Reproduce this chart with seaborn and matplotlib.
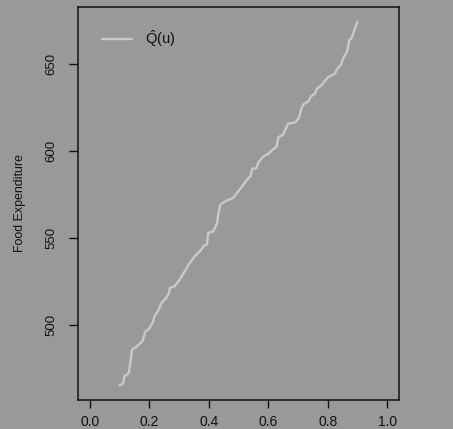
import matplotlib
matplotlib.use("Agg")
import matplotlib.pyplot as plt
import seaborn as sns
import pandas as pd

# Estimated quantile function of food expenditure, Q(u) on u in [0.1, 0.9]
u = [0.100, 0.111, 0.117, 0.131, 0.142, 0.156, 0.177, 0.187, 0.199, 0.212,
     0.218, 0.229, 0.241, 0.257, 0.266, 0.269, 0.285, 0.302, 0.319, 0.336,
     0.353, 0.375, 0.383, 0.394, 0.398, 0.415, 0.428, 0.431, 0.439, 0.460,
     0.482, 0.495, 0.516, 0.524, 0.541, 0.546, 0.561, 0.566, 0.583, 0.600,
     0.617, 0.628, 0.634, 0.650, 0.662, 0.667, 0.690, 0.703, 0.712, 0.720,
     0.735, 0.743, 0.757, 0.763, 0.780, 0.802, 0.825, 0.830, 0.844, 0.855,
     0.866, 0.873, 0.881, 0.886, 0.900]
q_hat = [465.2, 466.3, 470.5, 472.4, 485.8, 487.4, 490.6, 496.3, 497.7, 501.5,
         505.3, 507.8, 512.6, 515.5, 518.4, 521.2, 522.2, 526.0, 530.8, 535.6,
         539.4, 543.2, 545.5, 546.1, 552.8, 553.7, 558.5, 562.7, 569.1, 571.4,
         572.9, 575.8, 580.5, 582.4, 585.7, 589.6, 590.1, 593.0, 596.8, 598.3,
         601.0, 602.5, 607.9, 609.2, 614.0, 615.6, 616.3, 618.8, 624.6, 627.0,
         628.4, 631.2, 632.8, 635.5, 637.9, 642.4, 644.3, 646.6, 649.4, 654.2,
         657.1, 663.8, 664.8, 667.6, 674.3]

x_ticks = [0.0, 0.2, 0.4, 0.6, 0.8, 1.0]
y_ticks = [500, 550, 600, 650]
y_label = "Food Expenditure"
legend_label = r"$\hat{\mathrm{Q}}\mathrm{(u)}$"

bg = "#999999"
line_color = "#c9c9c9"
ink = "#111111"

sns.set_theme(style="ticks")
plt.rcParams["font.family"] = ["Liberation Sans", "DejaVu Sans"]
plt.rcParams["mathtext.fontset"] = "custom"
plt.rcParams["mathtext.rm"] = "Liberation Sans"
plt.rcParams["mathtext.it"] = "Liberation Sans"

df = pd.DataFrame({"u": u, "q": q_hat})

fig = plt.figure(figsize=(4.53, 4.29), dpi=100, facecolor=bg)
ax = fig.add_axes([0.1722, 0.0676, 0.7086, 0.9161])
ax.set_facecolor(bg)

sns.lineplot(data=df, x="u", y="q", ax=ax, color=line_color, linewidth=1.7,
             label=legend_label, sort=False)

# R-style 4% padding around the data range
ax.set_xlim(-0.04, 1.04)
rng = max(q_hat) - min(q_hat)
ax.set_ylim(min(q_hat) - 0.04 * rng, max(q_hat) + 0.04 * rng)

ax.set_xticks(x_ticks)
ax.set_xticklabels([f"{t:.1f}" for t in x_ticks], fontsize=10, color=ink)
ax.set_yticks(y_ticks)
ax.set_yticklabels([str(t) for t in y_ticks], fontsize=9.5, color=ink,
                   rotation=90, va="center")

ax.tick_params(axis="x", direction="out", length=5.5, width=1, color=ink, pad=5)
ax.tick_params(axis="y", direction="out", length=6.5, width=1, color=ink, pad=8)

for side in ["left", "right", "top", "bottom"]:
    ax.spines[side].set_visible(True)
    ax.spines[side].set_color(ink)
    ax.spines[side].set_linewidth(1.1)

ax.set_xlabel("")
ax.set_ylabel(y_label, fontsize=8.9, color=ink, labelpad=14)

leg = ax.legend(loc="upper left", frameon=False, fontsize=10.5,
                bbox_to_anchor=(0.035, 0.98), handlelength=2.0,
                handletextpad=0.9, labelcolor=ink)

fig.savefig("out.png", dpi=100, facecolor=bg)
